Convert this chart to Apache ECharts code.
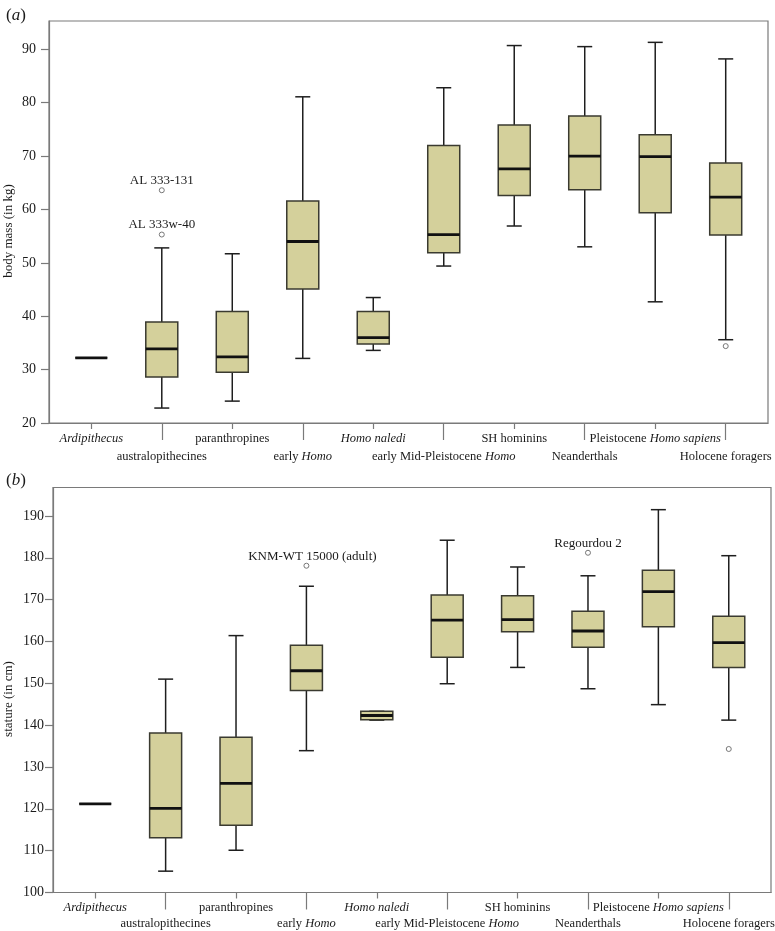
<!DOCTYPE html>
<html>
<head>
<meta charset="utf-8">
<script src="https://cdn.jsdelivr.net/npm/echarts@6/dist/echarts.min.js"></script>
<style>html,body{margin:0;padding:0;background:#fff}#c{width:775px;height:931px}</style>
</head>
<body>
<div id="c"></div>
<script>
// ---- data ----
const categories = ['Ardipithecus', 'australopithecines', 'paranthropines', 'early Homo', 'Homo naledi',
  'early Mid-Pleistocene Homo', 'SH hominins', 'Neanderthals', 'Pleistocene Homo sapiens', 'Holocene foragers'];
const italicWords = ['Ardipithecus', 'Homo', 'naledi', 'sapiens'];

// (a) body mass (kg)
const massMin = [32.2, 22.8, 24.1, 32.1, 33.6, 49.4, 56.9, 53.0, 42.7, 35.6];
const massQ1  = [32.2, 28.6, 29.5, 45.1, 34.8, 51.9, 62.6, 63.7, 59.4, 55.2];
const massMed = [32.2, 33.9, 32.4, 54.0, 36.0, 55.3, 67.6, 70.0, 69.9, 62.3];
const massQ3  = [32.2, 38.9, 40.9, 61.6, 40.9, 72.0, 75.8, 77.5, 74.0, 68.7];
const massMax = [32.2, 52.8, 51.7, 81.1, 43.5, 82.8, 90.7, 90.5, 91.3, 88.2];
const massOutliers = [[1, 63.6, 'AL 333-131'], [1, 55.3, 'AL 333w-40'], [9, 34.4, '']];
const massTicks = [20, 30, 40, 50, 60, 70, 80, 90];

// (b) stature (cm)
const statMin = [121.2, 105.1, 110.1, 133.9, 141.2, 149.9, 153.8, 148.7, 144.9, 141.2];
const statQ1  = [121.2, 113.1, 116.1, 148.3, 141.3, 156.2, 162.3, 158.6, 163.5, 153.8];
const statMed = [121.2, 120.1, 126.1, 153.0, 142.3, 165.1, 165.2, 162.5, 171.9, 159.7];
const statQ3  = [121.2, 138.1, 137.1, 159.1, 143.3, 171.1, 170.9, 167.2, 177.0, 166.0];
const statMax = [121.2, 151.0, 161.4, 173.2, 143.3, 184.2, 177.8, 175.7, 191.5, 180.5];
const statOutliers = [[3, 178.1, 'KNM-WT 15000 (adult)'], [7, 181.2, 'Regourdou 2'], [9, 134.3, '']];
const statTicks = [100, 110, 120, 130, 140, 150, 160, 170, 180, 190];

// ---- chart ----
const FONT = 'Liberation Serif';
const TXT = '#1a1a1a';
const FRAME = '#7a7a7a';

function boxRows(mn, q1, md, q3, mx) {
  return categories.map((_, i) => [i, mn[i], q1[i], md[i], q3[i], mx[i]]);
}
function labelFmt(v) {
  const name = categories[Math.round(v)];
  if (name === undefined) return '';
  return name.split(' ').map(w => italicWords.indexOf(w) >= 0 ? '{i|' + w + '}' : w).join(' ');
}
const evenIdx = [0, 2, 4, 6, 8], oddIdx = [1, 3, 5, 7, 9];

function makeX(gridIndex, vals, tickLen, margin, showLine) {
  return {
    type: 'value', gridIndex, position: 'bottom', min: -0.6, max: 9.6,
    splitLine: { show: false },
    axisLine: { show: showLine, onZero: false, lineStyle: { color: FRAME, width: 1.2 } },
    axisTick: { show: true, customValues: vals, length: tickLen, lineStyle: { color: FRAME, width: 1.2 } },
    axisLabel: {
      show: true, customValues: vals, margin, formatter: labelFmt,
      fontFamily: FONT, fontSize: 12.5, color: TXT,
      rich: { i: { fontFamily: FONT, fontSize: 12.5, fontStyle: 'italic', color: TXT } }
    }
  };
}
function makeY(gridIndex, min, max, ticks, name, margin, gap) {
  return {
    type: 'value', gridIndex, min, max, position: 'left',
    name, nameLocation: 'middle', nameGap: gap, nameRotate: 90, nameMoveOverlap: false,
    nameTextStyle: { fontFamily: FONT, fontSize: 13, color: TXT, padding: [0, 18, 0, 0] },
    splitLine: { show: false },
    axisLine: { show: true, onZero: false, lineStyle: { color: FRAME, width: 1.2 } },
    axisTick: { show: true, customValues: ticks, length: 8, lineStyle: { color: FRAME, width: 1.2 } },
    axisLabel: { show: true, customValues: ticks, margin, fontFamily: FONT, fontSize: 14, color: TXT }
  };
}
function renderBox(params, api) {
  const x = api.value(0);
  const pMin = api.coord([x, api.value(1)]);
  const pQ1 = api.coord([x, api.value(2)]);
  const pMed = api.coord([x, api.value(3)]);
  const pQ3 = api.coord([x, api.value(4)]);
  const pMax = api.coord([x, api.value(5)]);
  const cx = pMed[0];
  const half = 16, cap = 7.5;
  const lineStyle = { stroke: '#1e1e1e', lineWidth: 1.5 };
  return {
    type: 'group',
    children: [
      { type: 'line', shape: { x1: cx, y1: pQ3[1], x2: cx, y2: pMax[1] }, style: lineStyle },
      { type: 'line', shape: { x1: cx, y1: pQ1[1], x2: cx, y2: pMin[1] }, style: lineStyle },
      { type: 'line', shape: { x1: cx - cap, y1: pMax[1], x2: cx + cap, y2: pMax[1] }, style: lineStyle },
      { type: 'line', shape: { x1: cx - cap, y1: pMin[1], x2: cx + cap, y2: pMin[1] }, style: lineStyle },
      { type: 'rect', shape: { x: cx - half, y: pQ3[1], width: 2 * half, height: pQ1[1] - pQ3[1] },
        style: { fill: '#d4d09b', stroke: '#3a3a30', lineWidth: 1.5 } },
      { type: 'line', shape: { x1: cx - half, y1: pMed[1], x2: cx + half, y2: pMed[1] },
        style: { stroke: '#111', lineWidth: 2.8 } }
    ]
  };
}
function outlierSeries(xIdx, yIdx, data) {
  return {
    type: 'scatter', xAxisIndex: xIdx, yAxisIndex: yIdx,
    data: data.map(d => ({ value: [d[0], d[1]], label: { show: !!d[2], formatter: d[2], color: TXT,
      offset: d[2].length > 15 ? [6, 1] : [0, 1] } })),
    symbol: 'circle', symbolSize: 5,
    itemStyle: { color: '#fff', borderColor: '#777', borderWidth: 1, opacity: 1 },
    label: { position: 'top', distance: 1, fontFamily: FONT, fontSize: 13, color: TXT, textBorderWidth: 0 },
    emphasis: { disabled: true },
    z: 5
  };
}

const chart = echarts.init(document.getElementById('c'), null, { renderer: 'canvas' });
chart.setOption({
  animation: false,
  backgroundColor: '#fff',
  title: [
    { text: '({i|a})', left: 1, top: 2, textStyle: { fontFamily: FONT, fontSize: 17, fontWeight: 'normal', color: TXT,
      rich: { i: { fontFamily: FONT, fontSize: 17, fontStyle: 'italic', color: TXT } } } },
    { text: '({i|b})', left: 1, top: 467, textStyle: { fontFamily: FONT, fontSize: 17, fontWeight: 'normal', color: TXT,
      rich: { i: { fontFamily: FONT, fontSize: 17, fontStyle: 'italic', color: TXT } } } }
  ],
  grid: [
    { left: 49, top: 21, width: 719, height: 402, show: true, borderColor: FRAME, borderWidth: 1.2,
      backgroundColor: 'transparent', containLabel: false, outerBoundsMode: 'none' },
    { left: 53, top: 487.5, width: 718, height: 405, show: true, borderColor: FRAME, borderWidth: 1.2,
      backgroundColor: 'transparent', containLabel: false, outerBoundsMode: 'none' }
  ],
  xAxis: [
    makeX(0, evenIdx, 6, 9, true),
    makeX(0, oddIdx, 17, 27, false),
    makeX(1, evenIdx, 6, 9, true),
    makeX(1, oddIdx, 17, 25, false)
  ],
  yAxis: [
    makeY(0, 20, 95.3, massTicks, 'body mass (in kg)', 13, 34),
    makeY(1, 100, 196.8, statTicks, 'stature (in cm)', 9, 38)
  ],
  series: [
    { type: 'custom', xAxisIndex: 0, yAxisIndex: 0, renderItem: renderBox,
      encode: { x: 0, y: [1, 2, 3, 4, 5] }, data: boxRows(massMin, massQ1, massMed, massQ3, massMax) },
    outlierSeries(0, 0, massOutliers),
    { type: 'custom', xAxisIndex: 2, yAxisIndex: 1, renderItem: renderBox,
      encode: { x: 0, y: [1, 2, 3, 4, 5] }, data: boxRows(statMin, statQ1, statMed, statQ3, statMax) },
    outlierSeries(2, 1, statOutliers)
  ]
});
</script>
</body>
</html>
